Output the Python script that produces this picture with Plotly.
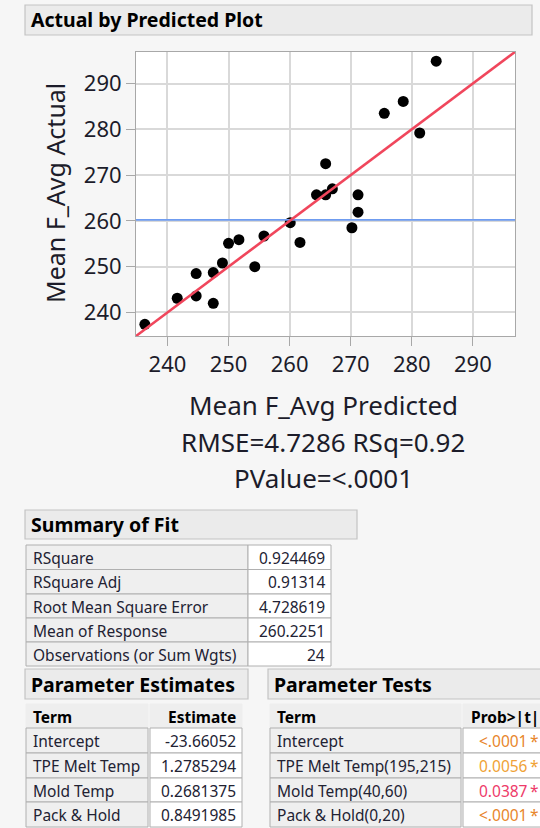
import plotly.graph_objects as go

# ---------------- data ----------------
predicted = [236.3, 241.6, 244.7, 244.7, 247.5, 247.5, 249.0, 250.0, 251.7, 254.3, 255.8, 260.1,
             261.7, 264.4, 265.9, 265.9, 267.0, 270.2, 271.2, 271.2, 275.5, 278.6, 281.3, 284.0]
actual = [237.4, 243.1, 243.6, 248.5, 242.0, 248.7, 250.8, 255.1, 255.9, 250.0, 256.7, 259.6,
          255.3, 265.7, 265.7, 272.5, 267.0, 258.5, 265.7, 261.9, 283.5, 286.1, 279.2, 294.9]
mean_response = 260.2251
axis_ticks = [240, 250, 260, 270, 280, 290]
axis_range = [234.85, 296.9]

fit_labels = ["RSquare", "RSquare Adj", "Root Mean Square Error", "Mean of Response",
              "Observations (or Sum Wgts)"]
fit_values = ["0.924469", "0.91314", "4.728619", "260.2251", "24"]

est_header = ["Term", "Estimate"]
est_terms = ["Intercept", "TPE Melt Temp", "Mold Temp", "Pack & Hold"]
est_values = ["-23.66052", "1.2785294", "0.2681375", "0.8491985"]

test_header = ["Term", "Prob>|t|"]
test_terms = ["Intercept", "TPE Melt Temp(195,215)", "Mold Temp(40,60)", "Pack & Hold(0,20)"]
test_pvalues = ["<.0001\u2009*", "0.0056\u2009*", "0.0387\u2009*", "<.0001\u2009*"]
test_pcolors = ["#e8862c", "#f0a236", "#ee3b6a", "#e8862c"]

# ---------------- layout helpers ----------------
W, H = 540, 828
FONT = "Noto Sans"
TXT = "#1c1c2a"
CELL_TXT = "#222233"
BG = "#f6f6f6"


def px(x):
    return x / W


def py(y):
    return 1 - y / H


def esc(s):
    return s.replace("&", "&amp;").replace("<", "&lt;").replace(">", "&gt;")


fig = go.Figure()

# scatter points
fig.add_trace(go.Scatter(x=predicted, y=actual, mode="markers",
                         marker=dict(color="black", size=11), showlegend=False,
                         hoverinfo="x+y"))
# mean line
fig.add_trace(go.Scatter(x=axis_range, y=[mean_response, mean_response], mode="lines",
                         line=dict(color="#6f9cf0", width=1.8), showlegend=False,
                         hoverinfo="skip"))
# fit line (actual = predicted)
fig.add_trace(go.Scatter(x=axis_range, y=axis_range, mode="lines",
                         line=dict(color="#f0465c", width=2.6), showlegend=False,
                         hoverinfo="skip"))

axis_common = dict(range=axis_range, tickvals=axis_ticks, showgrid=True,
                   gridcolor="#d9d9d9", gridwidth=1.5, zeroline=False,
                   showline=True, mirror=True, linecolor="#a8a8a8", linewidth=1,
                   ticks="outside", ticklen=9, tickcolor="#a8a8a8", tickwidth=1,
                   tickfont=dict(family=FONT, size=22, color=TXT))

fig.update_layout(
    width=W, height=H,
    margin=dict(l=0, r=0, t=0, b=0),
    paper_bgcolor=BG, plot_bgcolor="white",
    xaxis=dict(domain=[px(136), px(515)], **axis_common),
    yaxis=dict(domain=[py(336), py(52)], **axis_common),
    showlegend=False,
)

shapes = []
annotations = []


def rect(x0, x1, y0, y1, fill, line, lw=1):
    shapes.append(dict(type="rect", xref="paper", yref="paper",
                       x0=px(x0), x1=px(x1), y0=py(y1), y1=py(y0),
                       fillcolor=fill, line=dict(color=line, width=lw)))


def text(x, y, s, anchor="left", size=15.5, color=CELL_TXT, bold=False):
    s = esc(s)
    if bold:
        s = "<b>" + s + "</b>"
    annotations.append(dict(x=px(x), y=py(y), xref="paper", yref="paper",
                            xanchor=anchor, yanchor="middle", showarrow=False,
                            text=s, font=dict(family=FONT, size=size, color=color)))


def header_box(x0, x1, y0, y1, s):
    rect(x0, x1, y0, y1, "#ebebeb", "#c4c4c4", 1.2)
    text(x0 + 4, (y0 + y1) / 2, s, size=19.5, color="black", bold=True)


def table(col_edges, row_edges, columns, aligns, fills, colors=None, header=None):
    """col_edges: list of (x0, x1); row_edges: y boundaries (header row first if any)."""
    r0 = 0
    if header is not None:
        y0, y1 = row_edges[0], row_edges[1]
        for (x0, x1), h, al in zip(col_edges, header, aligns):
            rect(x0, x1, y0, y1, "#eeeeee", "#eeeeee")
            tx = x0 + 5 if al == "left" else x1 - 4
            text(tx, (y0 + y1) / 2 + 0.5, h, anchor=al, color="black", bold=True)
        r0 = 1
    nrows = len(columns[0])
    for ci, ((x0, x1), col, al, fill) in enumerate(zip(col_edges, columns, aligns, fills)):
        for ri in range(nrows):
            y0, y1 = row_edges[r0 + ri], row_edges[r0 + ri + 1]
            rect(x0, x1, y0, y1, fill, "#b0b0b0")
            c = colors[ci][ri] if colors is not None else CELL_TXT
            tx = x0 + 5 if al == "left" else x1 - 4
            text(tx, (y0 + y1) / 2 + 0.5, col[ri], anchor=al, color=c)


header_box(25, 532, 5, 35, "Actual by Predicted Plot")
header_box(25, 357, 510, 539, "Summary of Fit")
header_box(25, 248, 669, 699, "Parameter Estimates")
header_box(268, 560, 669, 699, "Parameter Tests")

# axis titles and stats
annotations.append(dict(x=px(55), y=py(193), xref="paper", yref="paper", showarrow=False,
                        text="Mean F_Avg Actual", textangle=-90,
                        xanchor="center", yanchor="middle",
                        font=dict(family=FONT, size=25, color=TXT)))
for s, yy in [("Mean F_Avg Predicted", 405), ("RMSE=4.7286 RSq=0.92", 442),
              ("PValue=<.0001", 478)]:
    text(323, yy, s, anchor="center", size=26, color=TXT)

# Summary of Fit
table([(26, 248), (248, 331)], [545, 569.5, 594, 618, 642, 666],
      [fit_labels, fit_values], ["left", "right"], ["#efefef", "white"])

# Parameter Estimates
table([(26, 148), (150, 242)], [704, 728, 753, 778, 802, 827],
      [est_terms, est_values], ["left", "right"], ["#efefef", "white"],
      header=est_header)

# Parameter Tests
table([(270, 461), (463, 545)], [704, 728, 753, 778, 802, 827],
      [test_terms, test_pvalues], ["left", "right"], ["#efefef", "white"],
      colors=[[CELL_TXT] * len(test_terms), test_pcolors], header=test_header)

fig.update_layout(shapes=shapes, annotations=annotations)

fig.write_html("out.html", post_script="document.body.style.margin='0';",
               config={"displayModeBar": False})
